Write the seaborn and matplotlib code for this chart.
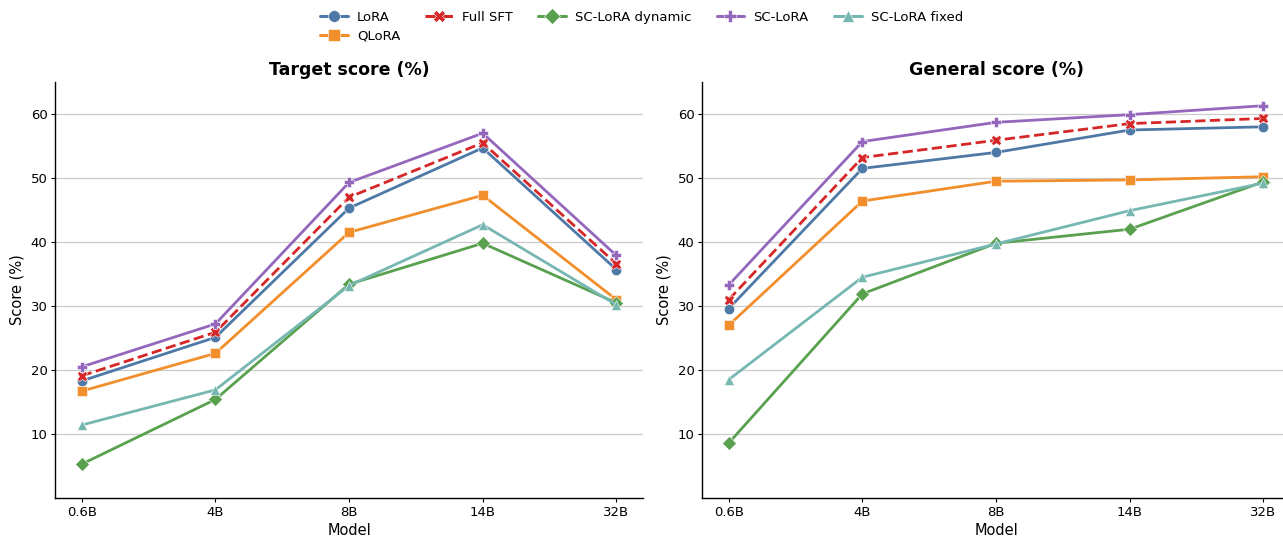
import seaborn as sns
import matplotlib.pyplot as plt
import pandas as pd

# --- Data ---
models = ['0.6B', '4B', '8B', '14B', '32B']
methods = ['LoRA', 'QLoRA', 'Full SFT', 'SC-LoRA dynamic', 'SC-LoRA', 'SC-LoRA fixed']

target_lora = [18.3, 25.1, 45.3, 54.7, 35.7]
target_qlora = [16.7, 22.6, 41.5, 47.3, 31.0]
target_full = [19.1, 25.9, 47.0, 55.5, 36.6]
target_dynamic = [5.3, 15.4, 33.4, 39.8, 30.5]
target_sclora = [20.5, 27.2, 49.3, 57.0, 37.9]
target_fixed = [11.4, 16.9, 33.2, 42.7, 30.2]

general_lora = [29.6, 51.5, 54.0, 57.5, 58.0]
general_qlora = [27.0, 46.4, 49.5, 49.7, 50.2]
general_full = [31.0, 53.2, 55.9, 58.5, 59.3]
general_dynamic = [8.6, 31.9, 39.8, 42.0, 49.4]
general_sclora = [33.3, 55.7, 58.7, 59.9, 61.3]
general_fixed = [18.5, 34.5, 39.7, 44.9, 49.2]

target = [target_lora, target_qlora, target_full, target_dynamic, target_sclora, target_fixed]
general = [general_lora, general_qlora, general_full, general_dynamic, general_sclora, general_fixed]


def to_long(series):
    rows = []
    for m, vals in zip(methods, series):
        for model, v in zip(models, vals):
            rows.append({'Model': model, 'Method': m, 'Score': v})
    return pd.DataFrame(rows)


df_target = to_long(target)
df_general = to_long(general)

palette = {
    'LoRA': '#4e79a7',
    'QLoRA': '#f28e2b',
    'Full SFT': '#d62728',
    'SC-LoRA dynamic': '#59a14f',
    'SC-LoRA': '#9467bd',
    'SC-LoRA fixed': '#76b7b2',
}
markers = {
    'LoRA': 'o', 'QLoRA': 's', 'Full SFT': 'X',
    'SC-LoRA dynamic': 'D', 'SC-LoRA': 'P', 'SC-LoRA fixed': '^',
}
dashes = {m: '' for m in methods}
dashes['Full SFT'] = (3.7, 1.6)

# --- Plot ---
sns.set_style("whitegrid")
plt.rcParams['font.family'] = ['DejaVu Sans']
plt.rcParams['text.color'] = 'black'
plt.rcParams['axes.labelcolor'] = 'black'
plt.rcParams['xtick.color'] = 'black'
plt.rcParams['ytick.color'] = 'black'

fig = plt.figure(figsize=(12.83, 5.37), dpi=100)
# axes placed to match the reference (right panel runs slightly past the edge)
ax1 = fig.add_axes([0.0429, 0.0726, 0.4583, 0.7747])
ax2 = fig.add_axes([0.5472, 0.0726, 0.4583, 0.7747])
axes = [ax1, ax2]

for ax, df, title in zip(axes, [df_target, df_general], ['Target score (%)', 'General score (%)']):
    sns.lineplot(
        data=df, x='Model', y='Score', hue='Method', style='Method',
        hue_order=methods, style_order=methods,
        palette=palette, markers=markers, dashes=dashes,
        linewidth=2.0, markersize=7.5, markeredgewidth=0.4, ax=ax, sort=False,
    )
    ax.set_title(title, fontsize=12.5, weight='bold', color='black', pad=5)
    ax.set_xlabel('Model', fontsize=10.5, labelpad=3)
    ax.set_ylabel('Score (%)', fontsize=10.5, labelpad=4)
    ax.set_ylim(0, 65)
    ax.set_xlim(-0.2, 4.2)
    ax.set_yticks([10, 20, 30, 40, 50, 60])
    ax.tick_params(axis='both', labelsize=9.5, length=3, pad=2.5, left=True, bottom=True)
    ax.xaxis.grid(False)
    ax.yaxis.grid(True, color='#cccccc', linewidth=0.9)
    for side in ['top', 'right']:
        ax.spines[side].set_visible(False)
    for side in ['left', 'bottom']:
        ax.spines[side].set_color('black')
        ax.spines[side].set_linewidth(1)
    ax.get_legend().remove()

handles, labels = ax1.get_legend_handles_labels()
for h in handles:
    h.set_markersize(8.5)
    h.set_linewidth(2.2)
fig.legend(handles, labels, loc='upper center', ncol=5, frameon=False,
           fontsize=9.5, bbox_to_anchor=(0.5, 0.995), columnspacing=1.9,
           handlelength=2.1, handletextpad=0.7, labelspacing=0.45, borderaxespad=0.2)

plt.savefig('out.png', dpi=100)
